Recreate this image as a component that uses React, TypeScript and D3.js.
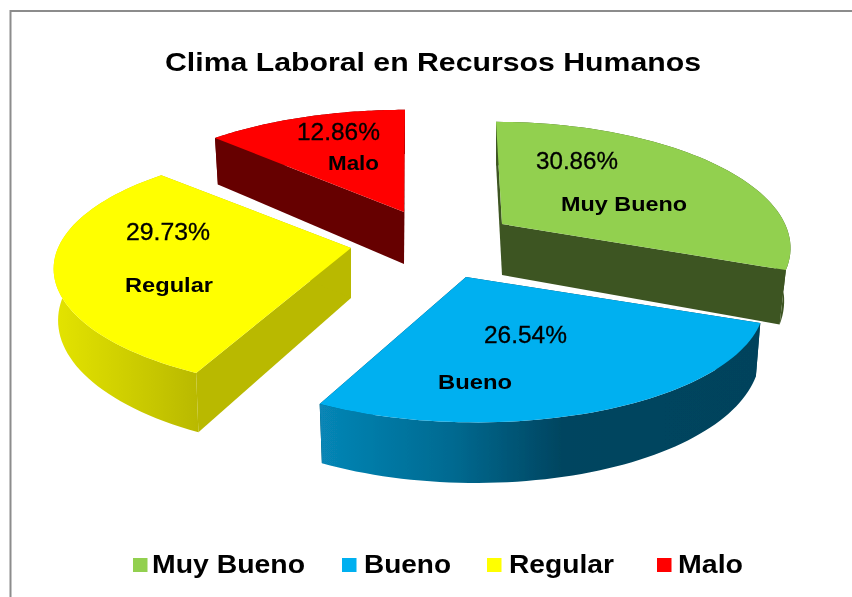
import React from "react";
import * as d3 from "d3";

const categories = ["Muy Bueno", "Bueno", "Regular", "Malo"];
const shares = [30.86, 26.54, 29.73, 12.86];
const shareLabels = ["30.86%", "26.54%", "29.73%", "12.86%"];
const topColors = ["#92d050", "#00b0f0", "#ffff00", "#ff0000"];
const cutColors = ["#3d5522", "#00435c", "#b9b900", "#660000"];
const wallStops: [number, string][][] = [
  [[0, "#3d5522"], [1, "#3d5522"]],
  [[0, "#0786b6"], [0.3, "#006a91"], [0.55, "#004560"], [1, "#00435c"]],
  [[0, "#e4e400"], [1, "#b9b900"]],
  [[0, "#660000"], [1, "#660000"]],
];

// Exploded-slice placement on the page
const apexX = [502, 466, 351, 404];
const apexY = [224, 277, 248, 212];
const radiusX = [283, 292, 293, 294];
const radiusY = [120, 120, 118, 120];
const lean = [-6, -10, -1, 1];
const depths = [51, 50, 50, 52];
const bottomScales = [0.978, 0.985, 0.985, 0.985];
const perspective = 0.1746;

const valueLabelPos = [
  { x: 536, w: 82, y: 169 },
  { x: 484, w: 83, y: 343 },
  { x: 126, w: 84, y: 240 },
  { x: 297, w: 83, y: 140 },
];
const nameLabelPos = [
  { x: 561, w: 126, y: 211 },
  { x: 438, w: 74, y: 389 },
  { x: 125, w: 88, y: 292 },
  { x: 328, w: 51, y: 170 },
];
const legendPos = [
  { sx: 133, tx: 152, w: 153 },
  { sx: 342, tx: 364, w: 87 },
  { sx: 487, tx: 509, w: 105 },
  { sx: 657, tx: 678, w: 65 },
];

const FONT = "'Liberation Sans', Arial, sans-serif";

type P = [number, number];

function project(i: number, a: number, lower: boolean): P {
  const u = Math.sin(a);
  const v = Math.cos(a);
  const w = 1 + perspective * v;
  const dx = (radiusX[i] * u) / w + lean[i] * v;
  const dy = (-radiusY[i] * v) / w;
  if (!lower) return [apexX[i] + dx, apexY[i] + dy];
  return [apexX[i] + dx * bottomScales[i], apexY[i] + dy + depths[i] / w];
}

export default function App() {
  const arcs = d3
    .pie<number>()
    .sort(null)
    .startAngle(0)
    .endAngle(2 * Math.PI)(shares);
  const line = d3.line<P>();

  const slices = arcs.map((arc, i) => {
    const angles = d3
      .range(0, 61)
      .map((k) => arc.startAngle + ((arc.endAngle - arc.startAngle) * k) / 60);
    const upper = angles.map((a) => project(i, a, false));
    const lower = angles.map((a) => project(i, a, true));
    const apex: P = [apexX[i], apexY[i]];
    const apexLow: P = [apexX[i], apexY[i] + depths[i]];
    const top = line([apex, ...upper])! + "Z";
    const wall = line([...upper, ...lower.slice().reverse()])! + "Z";
    const cutA = line([apex, upper[0], lower[0], apexLow])! + "Z";
    const cutB = line([apex, upper[60], lower[60], apexLow])! + "Z";
    return { top, wall, cutA, cutB, i };
  });

  const order = [3, 0, 2, 1];

  return (
    <svg
      width={852}
      height={597}
      viewBox="0 0 852 597"
      style={{ position: "absolute", left: 0, top: 0, background: "#fff" }}
    >
      <defs>
        {wallStops.map((stops, i) => (
          <linearGradient key={i} id={`wall${i}`} x1="0" x2="1" y1="0" y2="0">
            {stops.map(([o, c], k) => (
              <stop key={k} offset={o} stopColor={c} />
            ))}
          </linearGradient>
        ))}
        <filter id="soft" x="-2%" y="-2%" width="104%" height="104%">
          <feGaussianBlur stdDeviation="0.45" />
        </filter>
      </defs>

      <g filter="url(#soft)">
        <path
          d={line([[10.5, 597], [10.5, 11], [852, 11]])!}
          fill="none"
          stroke="#8c8c8c"
          strokeWidth={2}
        />

        {order.map((i) => {
          const s = slices[i];
          return (
            <g key={i}>
              <path d={s.cutA} fill={cutColors[i]} />
              <path d={s.cutB} fill={cutColors[i]} />
              <path d={s.wall} fill={`url(#wall${i})`} />
              <path d={s.top} fill={topColors[i]} />
            </g>
          );
        })}

        <text
          x={165}
          y={71}
          textLength={536}
          lengthAdjust="spacingAndGlyphs"
          fontFamily={FONT}
          fontWeight="bold"
          fontSize={25}
          fill="#000"
        >
          Clima Laboral en Recursos Humanos
        </text>

        {shareLabels.map((t, i) => (
          <text
            key={t}
            x={valueLabelPos[i].x}
            y={valueLabelPos[i].y}
            textLength={valueLabelPos[i].w}
            lengthAdjust="spacingAndGlyphs"
            fontFamily={FONT}
            fontSize={23}
            fill="#000"
            stroke="#000"
            strokeWidth={0.3}
          >
            {t}
          </text>
        ))}

        {categories.map((t, i) => (
          <text
            key={t}
            x={nameLabelPos[i].x}
            y={nameLabelPos[i].y}
            textLength={nameLabelPos[i].w}
            lengthAdjust="spacingAndGlyphs"
            fontFamily={FONT}
            fontWeight="bold"
            fontSize={19.5}
            fill="#000"
          >
            {t}
          </text>
        ))}

        {categories.map((t, i) => (
          <g key={t}>
            <rect
              x={legendPos[i].sx}
              y={558}
              width={14.5}
              height={14}
              fill={topColors[i]}
            />
            <text
              x={legendPos[i].tx}
              y={573}
              textLength={legendPos[i].w}
              lengthAdjust="spacingAndGlyphs"
              fontFamily={FONT}
              fontWeight="bold"
              fontSize={25}
              fill="#000"
            >
              {t}
            </text>
          </g>
        ))}
      </g>
    </svg>
  );
}
